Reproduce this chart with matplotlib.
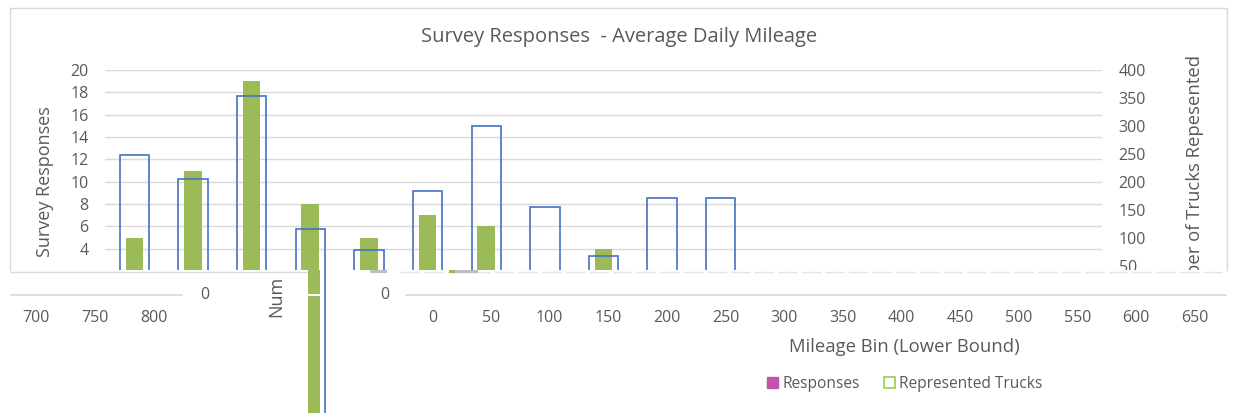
#!/usr/bin/env python3
"""Survey responses vs. average daily mileage (reproduces a glitched Excel render)."""

import numpy as np
import matplotlib

matplotlib.use("Agg")
from matplotlib import pyplot as plt
from matplotlib.patches import Patch
from matplotlib.transforms import Bbox, TransformedBbox

plt.rcParams["font.family"] = ["Open Sans", "DejaVu Sans"]

# data
bins = [0, 50, 100, 150, 200, 250, 300, 350, 400, 450, 500, 550, 600, 650, 700, 750, 800]
responses = [5, 11, 19, 8, 5, 7, 6, 0, 4, 0, 0, 0, 0, 0, 0, 0, 0]
trucks = [248, 205, 354, 116, 78, 184, 300, 155, 68, 171, 171, 0, 0, 0, 0, 0, 0]
resp_ticks = list(range(4, 21, 2))
truck_ticks = list(range(50, 401, 50))

GREEN = "#9BBB59"
BLUE = "#4472C4"
GRID = "#D9D9D9"
TEXT = "#595959"

W, H = 1233, 413


def box(left, top, right, bottom):
    """Pixel box -> figure fraction rect."""
    return [left / W, 1 - bottom / H, (right - left) / W, (bottom - top) / H]


fig = plt.figure(figsize=(W / 100, H / 100), dpi=100)

# pixel canvas for the chart frame
canvas = fig.add_axes([0, 0, 1, 1], zorder=-1)
canvas.set_xlim(0, W)
canvas.set_ylim(H, 0)
canvas.axis("off")
canvas.plot([10, 10, 1227, 1227], [270, 8, 8, 270], color=GRID, lw=1)

# everything below this row was lost in the render
clip = TransformedBbox(Bbox([[0, 1 - 270 / H], [1, 1]]), fig.transFigure)

plot_l, plot_r, zero_y = 105, 1102, 293.5
x = np.arange(len(bins))

ax = fig.add_axes(box(plot_l, 70, plot_r, 270))
ax.bar(x, responses, width=0.3, color=GREEN, zorder=2)
ax.set_xlim(-0.5, len(bins) - 0.5)
ax.set_ylim(20 * (zero_y - 270) / (zero_y - 70), 20)
ax.set_yticks(resp_ticks)
ax.set_xticks([])
ax.grid(axis="y", color=GRID, lw=1)
ax.set_axisbelow(True)
ax.tick_params(length=0, labelsize=11.5, colors=TEXT, pad=12)
for s in ax.spines.values():
    s.set_visible(False)

ax2 = ax.twinx()
ax2.bar(x, trucks, width=0.5, fill=False, edgecolor=BLUE, lw=1.2, zorder=3)
ax2.set_ylim(400 * (zero_y - 270) / (zero_y - 70), 400)
ax2.set_yticks(truck_ticks)
ax2.tick_params(length=0, labelsize=11.5, colors=TEXT, pad=12)
for s in ax2.spines.values():
    s.set_visible(False)
for lab in ax2.get_yticklabels():
    lab.set_clip_box(clip)
    lab.set_clip_on(True)

fig.text(619 / W, 1 - 37 / H, "Survey Responses  - Average Daily Mileage",
         ha="center", va="center", fontsize=14.5, color=TEXT)
fig.text(45 / W, 1 - 182 / H, "Survey Responses", rotation=90,
         ha="center", va="center", fontsize=13, color=TEXT)
# right axis title: its start ("Num") was cut off and lands in the strip below
rlab = fig.text(1195 / W, 1 - 275 / H, "ber of Trucks Repesented", rotation=90,
                ha="center", va="bottom", fontsize=13.3, color=TEXT)
rlab.set_clip_box(clip)
rlab.set_clip_on(True)

# displaced lower strip: same category scale, pixel rows on y
cw = (plot_r - plot_l) / len(bins)
c0 = plot_l + cw / 2


def u(px):
    return (px - c0) / cw


strip = fig.add_axes(box(10, 270, 1227, 413), zorder=3)
strip.set_xlim(u(10), u(1227))
strip.set_ylim(H, 270)
strip.axis("off")

strip.hlines(272, u(10), u(308), color=GRID, lw=1)
strip.hlines(272, u(400), u(1227), color="#E4E4E4", lw=1, linestyles=(0, (14, 3)))
strip.hlines(295, u(10), u(183), color=GRID, lw=1.2)
strip.hlines(295, u(405), u(1227), color=GRID, lw=1.2)

# the 150-mile group spilling down through the strip
g = bins.index(150)
strip.bar(g + 0.065, H - 270, bottom=270, width=0.2, color=GREEN, zorder=2)
strip.vlines(g + 0.25, 270, H, color=BLUE, lw=1.2, zorder=2)
strip.hlines(295, g - 0.1, g + 0.2, color="white", lw=1.5, zorder=3)
strip.hlines(271, u(370), u(387), color="#BFBFBF", lw=3)
strip.hlines(271, u(453), u(478), color="#BFBFBF", lw=3)
strip.hlines(270.5, u(449), u(455), color=GREEN, lw=3)

strip.text(u(205), 295, "0", ha="center", va="center", fontsize=11.5, color=TEXT)
strip.text(u(385), 295, "0", ha="center", va="center", fontsize=11.5, color=TEXT)
strip.text(u(276), 317, "Num", rotation=90, ha="center", va="bottom",
           fontsize=13, color=TEXT)

# category labels, shifted and wrapped around the frame
shift = 298 / cw
period = u(1227) - u(10)
for i, b in enumerate(bins):
    pos = i + shift
    if pos > u(1227):
        pos -= period
    strip.text(pos, 318, str(b), ha="center", va="center", fontsize=11.5, color=TEXT)

fig.text(904 / W, 1 - 347 / H, "Mileage Bin (Lower Bound)",
         ha="center", va="center", fontsize=13.3, color=TEXT)

handles = [Patch(facecolor="#C055A8", edgecolor="#C055A8"),
           Patch(facecolor="white", edgecolor="#92D050", lw=1.2)]
fig.legend(handles, ["Responses", "Represented Trucks"], loc="center",
           bbox_to_anchor=(905 / W, 1 - 384 / H), ncol=2, frameon=False,
           handlelength=0.7, handleheight=0.7, handletextpad=0.3,
           columnspacing=1.5, fontsize=11.2, labelcolor=TEXT)

fig.savefig("out.png", dpi=100)
